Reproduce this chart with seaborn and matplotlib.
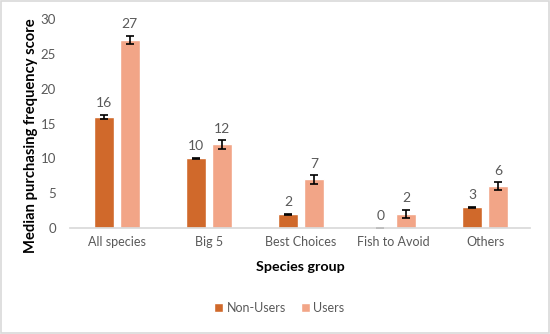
import matplotlib
matplotlib.use("Agg")
import matplotlib.pyplot as plt
import seaborn as sns
import pandas as pd
from matplotlib.patches import Rectangle

categories = ["All species", "Big 5", "Best Choices", "Fish to Avoid", "Others"]
groups = ["Non-Users", "Users"]
non_users = [16, 10, 2, 0, 3]
users = [27, 12, 7, 2, 6]
non_users_err = [0.3, 0.08, 0.08, 0.08, 0.08]
users_err = [0.6, 0.6, 0.6, 0.6, 0.6]

colors = {"Non-Users": "#D0692B", "Users": "#F2A587"}

df = pd.DataFrame({
    "Species group": categories * 2,
    "Group": ["Non-Users"] * len(categories) + ["Users"] * len(categories),
    "Score": non_users + users,
})

sns.set_theme(style="white")
plt.rcParams["font.family"] = ["Lato", "DejaVu Sans"]

fig = plt.figure(figsize=(5.5, 3.34), dpi=100)
ax = fig.add_axes([0.127, 0.317, 0.837, 0.626])

sns.barplot(data=df, x="Species group", y="Score", hue="Group", order=categories,
            hue_order=groups, palette=colors, width=0.56, gap=0.22,
            errorbar=None, ax=ax, legend=True, saturation=1)

errs = {"Non-Users": non_users_err, "Users": users_err}
vals = {"Non-Users": non_users, "Users": users}
for container, g in zip(ax.containers, groups):
    for bar, v, e in zip(container, vals[g], errs[g]):
        xc = bar.get_x() + bar.get_width() / 2
        ax.errorbar(xc, v, yerr=e, fmt="none", ecolor="black", elinewidth=1.2,
                    capsize=3, capthick=1.2)
        ax.annotate(f"{v}", (xc, v + e), xytext=(0, 4), textcoords="offset points",
                    ha="center", va="bottom", fontsize=10, color="#595959")

ax.set_xlim(-0.51, 4.49)
ax.set_ylim(0, 30)
ax.set_yticks(range(0, 31, 5))
for s in ["top", "right", "left"]:
    ax.spines[s].set_visible(False)
ax.spines["bottom"].set_color("#d9d9d9")
ax.tick_params(axis="x", length=0, labelsize=9, colors="#595959", pad=6)
ax.tick_params(axis="y", length=0, labelsize=9.5, colors="#595959", pad=10)
ax.set_xlabel("Species group", fontsize=10.3, fontweight="bold", color="black", labelpad=9)
ax.set_ylabel("Median purchasing frequency score", fontsize=10.6, fontweight="bold",
              color="black")
ax.yaxis.set_label_coords(-0.07, 0.44)

leg = ax.legend(loc="upper center", bbox_to_anchor=(0.455, -0.30), ncol=2, frameon=False,
                fontsize=9, handlelength=0.7, handleheight=0.7, handletextpad=0.3,
                columnspacing=1.2)
for t in leg.get_texts():
    t.set_color("#595959")

fig.add_artist(Rectangle((0.001, 0.003), 0.997, 0.994, transform=fig.transFigure,
                         fill=False, edgecolor="#d9d9d9", linewidth=1.2))

fig.savefig("out.png", dpi=100)
